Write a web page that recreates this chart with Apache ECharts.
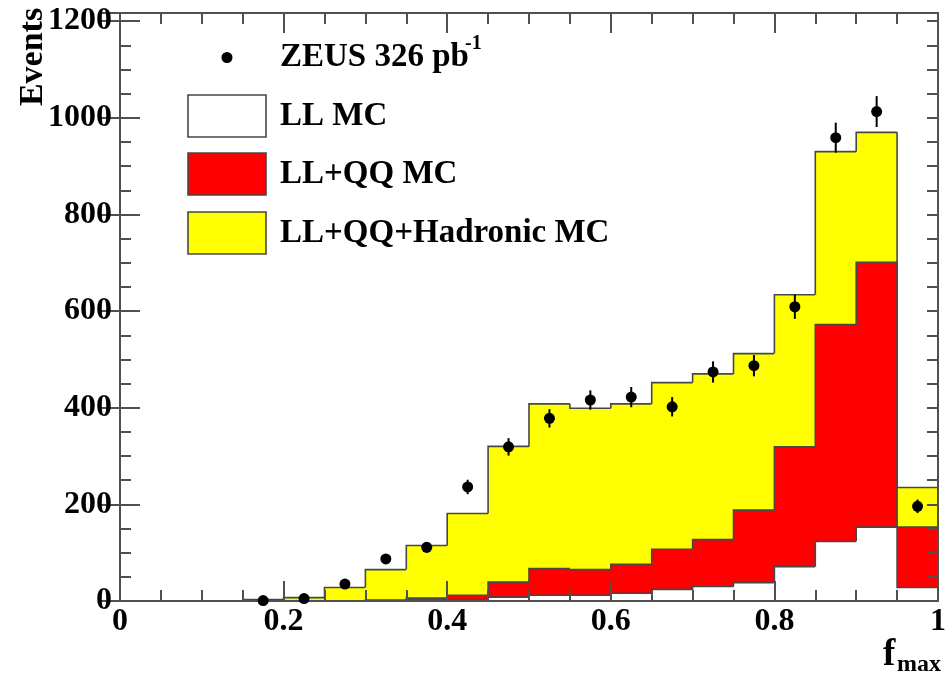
<!DOCTYPE html>
<html>
<head>
<meta charset="utf-8">
<script src="https://cdn.jsdelivr.net/npm/echarts@6/dist/echarts.min.js"></script>
<style>
  html, body { margin: 0; padding: 0; background: #ffffff; }
  #chart { width: 949px; height: 676px; }
</style>
</head>
<body>
<div id="chart"></div>
<script>
// f_max bin edges (17 bins of width 0.05 from 0.15 to 1.0)
const binEdges = [0.15, 0.2, 0.25, 0.3, 0.35, 0.4, 0.45, 0.5, 0.55, 0.6, 0.65, 0.7, 0.75, 0.8, 0.85, 0.9, 0.95, 1.0];

// Stacked Monte Carlo predictions (events per bin)
const mcLLQQHad = [3, 7, 28, 65, 115, 181, 320, 408, 399, 408, 452, 470, 512, 634, 930, 970, 235];
const mcLLQQ    = [0, 0, 0, 2, 6, 12, 39, 67, 65, 76, 107, 127, 188, 319, 572, 701, 153];
const mcLL      = [0, 0, 0, 0, 1, 3, 8, 12, 12, 16, 24, 30, 38, 71, 123, 153, 28];

// ZEUS data points (bin centres, counts, statistical errors)
const zeusX   = [0.175, 0.225, 0.275, 0.325, 0.375, 0.425, 0.475, 0.525, 0.575, 0.625, 0.675, 0.725, 0.775, 0.825, 0.875, 0.925, 0.975];
const zeusY   = [1, 5, 35, 87, 111, 236, 319, 378, 416, 422, 402, 474, 487, 609, 959, 1013, 196];
const zeusErr = [1, 2, 6, 9, 11, 15, 18, 19, 20, 21, 20, 22, 22, 25, 31, 32, 14];

// Axis ranges and ticks
const xRange = [0, 1];
const yRange = [0, 1217];
const xMajor = 0.2;
const yMajor = 200;
const yMinor = 50;

const legendLabels = ['ZEUS 326 pb', 'LL MC', 'LL+QQ MC', 'LL+QQ+Hadronic MC'];
const legendColors = ['#000000', '#ffffff', '#ff0000', '#ffff00'];

const serif = "'Liberation Serif', 'DejaVu Serif', 'Times New Roman', serif";
const frameGray = '#505050';
const outlineGray = '#474747';

function histSeries(values, fill, z) {
  const last = values.length - 1;
  const items = values.map((v, i) => [binEdges[i], binEdges[i + 1], v, i > 0 ? values[i - 1] : 0, i === last ? 1 : 0]);
  return {
    type: 'custom',
    xAxisIndex: 0,
    yAxisIndex: 0,
    z: z,
    silent: true,
    encode: { x: [0, 1], y: 2 },
    renderItem: function (params, api) {
      const lo = api.value(0), hi = api.value(1), v = api.value(2), prev = api.value(3), isLast = api.value(4);
      const base = api.coord([lo, 0]);
      const top = api.coord([hi, v]);
      const prevPt = api.coord([lo, prev]);
      const children = [];
      if (v > 0) {
        // snap to whole pixels so neighbouring bins meet without seams
        const x0 = Math.round(base[0]);
        const x1 = Math.round(top[0]);
        children.push({
          type: 'rect',
          shape: { x: x0, y: top[1], width: x1 - x0, height: base[1] - top[1] },
          style: { fill: fill, stroke: null }
        });
      }
      const pts = [prevPt, [base[0], top[1]], top];
      if (isLast) pts.push([top[0], base[1]]);
      children.push({
        type: 'polyline',
        shape: { points: pts },
        style: { stroke: outlineGray, lineWidth: 1.6, fill: null }
      });
      return { type: 'group', children: children };
    },
    data: items
  };
}

function valueAxis(opts) {
  return Object.assign({
    type: 'value',
    z: 10,
    splitLine: { show: false },
    minorSplitLine: { show: false },
    axisLine: { show: true, onZero: false, lineStyle: { color: frameGray, width: 2 } },
    axisTick: { show: true, inside: true, length: 20, lineStyle: { color: frameGray, width: 2 } },
    axisLabel: { show: false }
  }, opts);
}

const labelStyle = { color: '#000', fontFamily: serif, fontWeight: 'bold', fontSize: 32 };

const chart = echarts.init(document.getElementById('chart'), null, { renderer: 'canvas' });

const option = {
  animation: false,
  backgroundColor: '#ffffff',
  grid: { left: 120, right: 9, top: 13, bottom: 75, containLabel: false },
  xAxis: [
    valueAxis({
      min: xRange[0], max: xRange[1], interval: xMajor, position: 'bottom',
      minorTick: { show: true, splitNumber: 4, length: 11, lineStyle: { color: frameGray, width: 2 } },
      axisLabel: Object.assign({ show: true, margin: 5 }, labelStyle)
    }),
    valueAxis({
      min: xRange[0], max: xRange[1], interval: xMajor, position: 'top',
      minorTick: { show: true, splitNumber: 4, length: 11, lineStyle: { color: frameGray, width: 2 } }
    })
  ],
  yAxis: [
    valueAxis({
      min: yRange[0], max: yRange[1], interval: yMinor, position: 'left',
      axisTick: { show: true, inside: true, length: 11, lineStyle: { color: frameGray, width: 2 } },
      axisLabel: Object.assign({
        show: true, margin: 8,
        formatter: function (v) { return v % yMajor === 0 ? String(v) : ''; }
      }, labelStyle)
    }),
    valueAxis({
      min: yRange[0], max: yRange[1], interval: yMajor, position: 'left',
      axisLine: { show: false }
    }),
    valueAxis({
      min: yRange[0], max: yRange[1], interval: yMinor, position: 'right',
      axisTick: { show: true, inside: true, length: 11, lineStyle: { color: frameGray, width: 2 } }
    }),
    valueAxis({
      min: yRange[0], max: yRange[1], interval: yMajor, position: 'right',
      axisLine: { show: false }
    })
  ],
  series: [
    histSeries(mcLLQQHad, legendColors[3], 1),
    histSeries(mcLLQQ, legendColors[2], 2),
    histSeries(mcLL, legendColors[1], 3),
    {
      type: 'custom',
      xAxisIndex: 0, yAxisIndex: 0, z: 14, silent: true,
      encode: { x: 0, y: 1 },
      renderItem: function (params, api) {
        const x = api.value(0), y = api.value(1), e = api.value(2);
        const a = api.coord([x, y - e]);
        const b = api.coord([x, y + e]);
        return { type: 'line', shape: { x1: a[0], y1: a[1], x2: b[0], y2: b[1] }, style: { stroke: '#000', lineWidth: 2 } };
      },
      data: zeusX.map((x, i) => [x, zeusY[i], zeusErr[i]])
    },
    {
      type: 'scatter',
      xAxisIndex: 0, yAxisIndex: 0, z: 15, silent: true,
      clip: false,
      symbol: 'circle',
      symbolSize: 11,
      itemStyle: { color: '#000', opacity: 1 },
      data: zeusX.map((x, i) => [x, zeusY[i]])
    }
  ],
  graphic: [
    // y-axis title
    { type: 'text', x: 33, y: 57, rotation: Math.PI / 2,
      style: { text: 'Events', font: 'bold 34px ' + serif, fill: '#000', align: 'center', verticalAlign: 'middle' } },
    // x-axis title f_max
    { type: 'text', x: 883, y: 655,
      style: { text: 'f', font: 'bold 37px ' + serif, fill: '#000', align: 'left', verticalAlign: 'middle' } },
    { type: 'text', x: 897, y: 665,
      style: { text: 'max', font: 'bold 24px ' + serif, fill: '#000', align: 'left', verticalAlign: 'middle' } },
    // legend: data marker
    { type: 'circle', shape: { cx: 227, cy: 57.5, r: 5.5 }, style: { fill: legendColors[0] } },
    { type: 'text', x: 280, y: 57,
      style: { text: legendLabels[0], font: 'bold 33px ' + serif, fill: '#000', align: 'left', verticalAlign: 'middle' } },
    { type: 'text', x: 465, y: 44,
      style: { text: '-1', font: 'bold 20px ' + serif, fill: '#000', align: 'left', verticalAlign: 'middle' } },
    // legend: MC boxes
    { type: 'rect', shape: { x: 188, y: 95, width: 78, height: 42 }, style: { fill: legendColors[1], stroke: outlineGray, lineWidth: 1.6 } },
    { type: 'text', x: 280, y: 116,
      style: { text: legendLabels[1], font: 'bold 33px ' + serif, fill: '#000', align: 'left', verticalAlign: 'middle' } },
    { type: 'rect', shape: { x: 188, y: 153, width: 78, height: 42 }, style: { fill: legendColors[2], stroke: outlineGray, lineWidth: 1.6 } },
    { type: 'text', x: 280, y: 174,
      style: { text: legendLabels[2], font: 'bold 33px ' + serif, fill: '#000', align: 'left', verticalAlign: 'middle' } },
    { type: 'rect', shape: { x: 188, y: 212, width: 78, height: 42 }, style: { fill: legendColors[3], stroke: outlineGray, lineWidth: 1.6 } },
    { type: 'text', x: 280, y: 233,
      style: { text: legendLabels[3], font: 'bold 33px ' + serif, fill: '#000', align: 'left', verticalAlign: 'middle' } }
  ]
};

chart.setOption(option);
</script>
</body>
</html>
